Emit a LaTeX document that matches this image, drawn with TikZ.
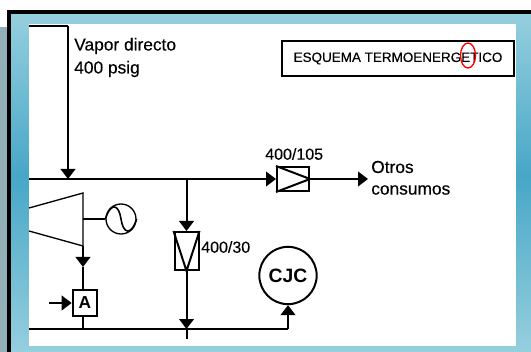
\documentclass[tikz,border=0pt]{standalone}
\usepackage{fontspec}
\setmainfont{Liberation Sans}
\newfontfamily\lblfont[FakeBold=0.3]{Liberation Sans}
\usepackage{xcolor}
\definecolor{framelight}{HTML}{96CFDE}
\definecolor{framedark}{HTML}{47A7C7}
\definecolor{sidegrey}{HTML}{92AEB6}
\usetikzlibrary{arrows.meta,positioning,calc}
\tikzset{
  lbl/.style={inner sep=0pt, anchor=west, font=\lblfont\fontsize{13}{13}\selectfont},
  lblnum/.style={lbl, font=\lblfont\fontsize{12}{12}\selectfont},
  tbox/.style={draw, line width=1.5pt, inner sep=0pt, fill=white},
  pipe/.style={line width=1.5pt},
  ar/.style={-{Triangle[length=7.5pt,width=11pt]}, line width=1.5pt},
}
\begin{document}
\begin{tikzpicture}[x=0.75pt,y=-0.75pt]
  \useasboundingbox (0,0) rectangle (531,352);
  % frame and panel
  \fill[sidegrey] (0,27) rectangle (8,352);
  \shade[top color=framelight, bottom color=framedark] (11,13) rectangle (531,176);
  \shade[top color=framedark, bottom color=framelight] (11,176) rectangle (531,352);
  \fill[black] (7,10) rectangle (531,14);
  \fill[black] (7,10) rectangle (11,352);
  \fill[white] (29,24) rectangle (516,346);
  % text
  \node[lbl] (vapor) at (74,46) {Vapor directo};
  \node[lbl] (psig) at (74,69) {400 psig};
  \node[tbox, minimum width=174pt, minimum height=26pt, font=\lblfont\fontsize{10.1}{10.1}\selectfont] (titulo) at (398,58.5) {ESQUEMA TERMOENERGETICO};
  \draw[red, line width=1pt] (468,55.5) ellipse (7.5 and 12.5);
  % coordinates of the lines
  \coordinate (vin) at (29,26);
  \coordinate (vcod) at (68,26);
  \coordinate (h1) at (29,179);
  \coordinate (j1) at (68,179);
  \coordinate (j2) at (186.5,179);
  \coordinate (h2) at (29,329);
  \coordinate (j3) at (186.5,329);
  \coordinate (end3) at (186.5,339);
  \coordinate (ain) at (49,303);
  \coordinate (otros) at (368,179);
  \coordinate (tsal) at (83,246);
  \coordinate (tfle) at (83,267);
  % turbine
  \coordinate (t1) at (29,208);
  \coordinate (t2) at (83,193);
  \coordinate (t4) at (29,231);
  \draw[line width=1pt] (t1) -- (t2) -- (tsal) -- (t4);
  \node[draw, circle, line width=1pt, minimum size=22.5pt, inner sep=0pt] (gen) at (121,219) {};
  \draw[line width=1.2pt] (gen.west) .. controls ($(gen.west)+(6,-18)$) and ($(gen.center)+(-2,-14)$) .. (gen.center)
     .. controls ($(gen.center)+(2,14)$) and ($(gen.east)+(-6,18)$) .. (gen.east);
  \draw[line width=1pt] (83,219) -- (gen);
  % valves and boxes
  \node[tbox, minimum width=24pt, minimum height=18pt] (v105) at (293,179) {};
  \draw[pipe] (v105.north west) -- (v105.east) -- (v105.south west);
  \node[tbox, minimum width=18pt, minimum height=28.5pt] (v30) at (186.5,251) {};
  \draw[pipe] (v30.north west) -- (v30.south) -- (v30.north east);
  \node[tbox, minimum width=18.5pt, minimum height=19.5pt, font=\bfseries\fontsize{13}{13}\selectfont] (a) at (85,303) {A};
  \node[draw, circle, line width=1.5pt, minimum size=43pt, inner sep=0pt, font=\bfseries\fontsize{14.5}{14.5}\selectfont] (cjc) at (288,275.5) {CJC};
  \node[lblnum] (l105) at (265,154) {400/105};
  \node[lblnum] (l30) at (201,247) {400/30};
  \node[lbl] (l1) at (371,167) {Otros};
  \node[lbl] (l2) at (371,190) {consumos};
  % pipes
  \draw[pipe] (vin) -- (vcod);
  \draw[ar] (vcod) -- (j1);
  \draw[ar] (h1) -- (v105.west);
  \draw[ar] (v105) -- (otros);
  \draw[ar] (j2) -- (v30.north);
  \draw[ar] (v30) -- (j3);
  \draw[pipe] (j3) -- (end3);
  \draw[ar] (tsal) -- (tfle);
  \draw[pipe] (tfle) -- (tfle |- a.north);
  \draw[ar] (ain) -- (a);
  \draw[pipe] (tfle |- a.south) -- (tfle |- h2);
  \draw[pipe] (h2) -- (288,329);
  \draw[ar] (288,329) -- (cjc.south);
\end{tikzpicture}
\end{document}
